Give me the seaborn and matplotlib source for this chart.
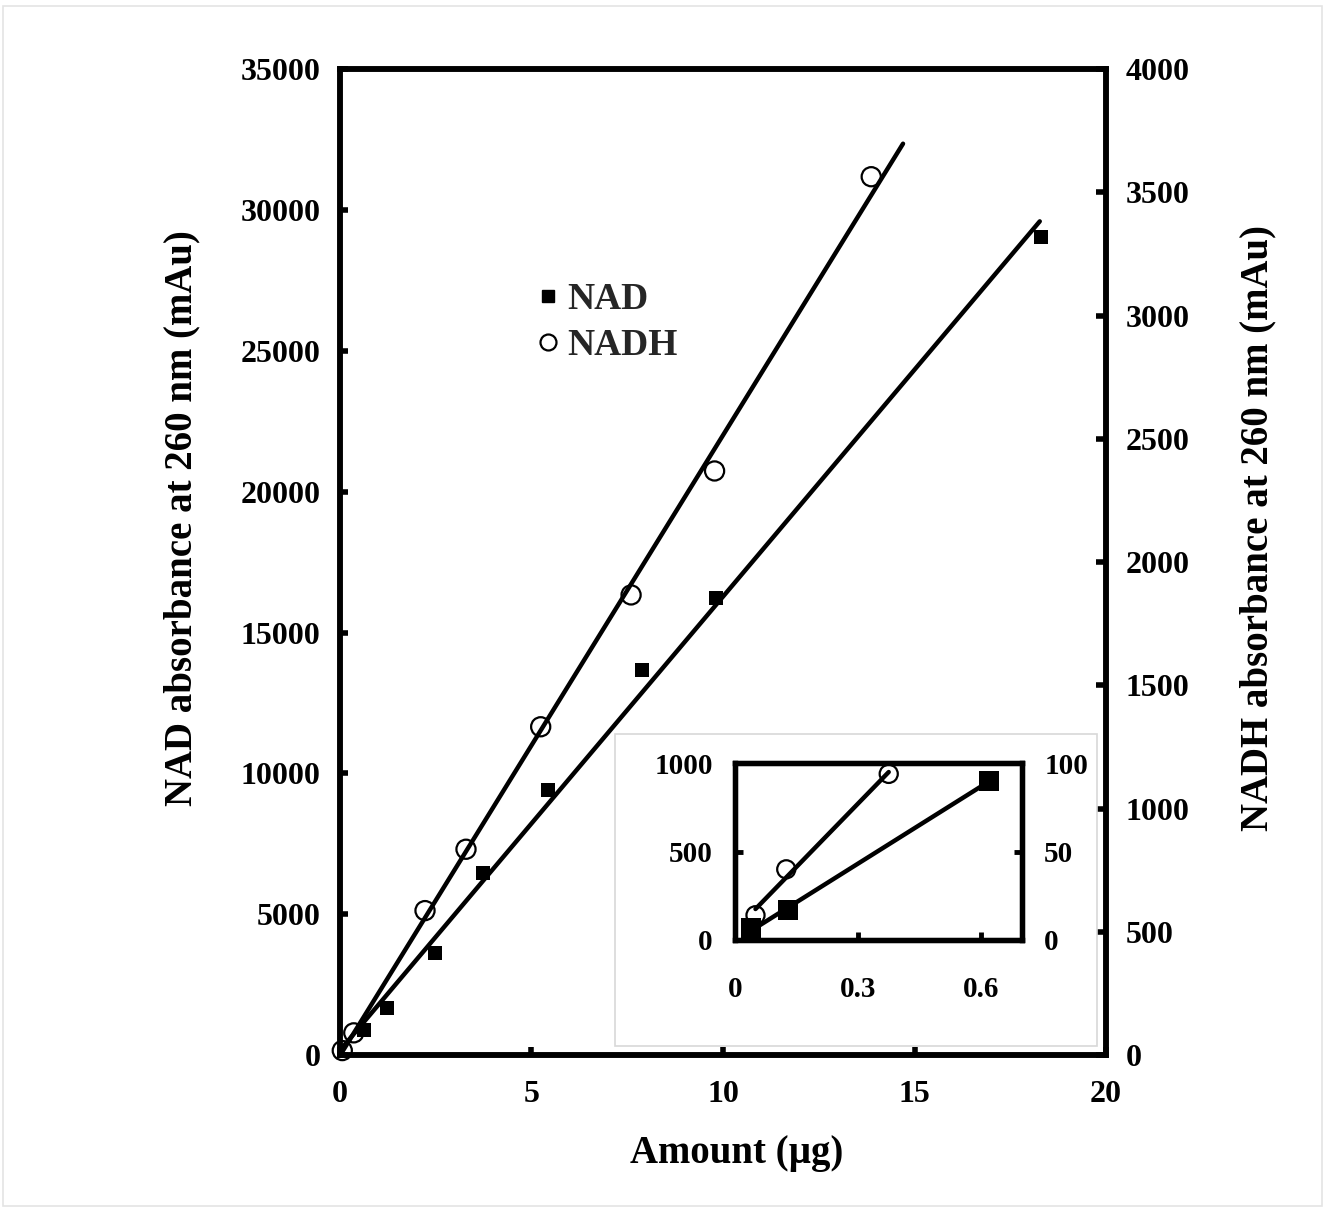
import numpy as np
import seaborn as sns
import matplotlib
matplotlib.use("Agg")
import matplotlib.pyplot as plt
from matplotlib.lines import Line2D
from matplotlib.patches import Rectangle

# Absorbance at 260 nm versus injected amount (main panel)
nad_amount = [0.62, 1.22, 2.48, 3.74, 5.42, 7.88, 9.81, 18.29]
nad_abs = [900, 1658, 3632, 6473, 9410, 13670, 16216, 29056]
nadh_amount = [0.06, 0.36, 2.22, 3.29, 5.24, 7.60, 9.78, 13.87]
nadh_abs = [18, 90, 586, 835, 1332, 1867, 2370, 3564]

# Low-amount range (inset)
nad_low_amount = [0.04, 0.13, 0.62]
nad_low_abs = [66, 170, 900]
nadh_low_amount = [0.05, 0.125, 0.375]
nadh_low_abs = [14, 40, 94]

# extent of the calibration lines (µg)
nad_fit_end = 18.27
nadh_fit_end = 14.7

x_ticks = [0, 5, 10, 15, 20]
nad_ticks = list(range(0, 35001, 5000))
nadh_ticks = list(range(0, 4001, 500))
inset_x_ticks = [0, 0.3, 0.6]
inset_x_labels = ["0", "0.3", "0.6"]
inset_nad_ticks = [0, 500, 1000]
inset_nadh_ticks = [0, 50, 100]

sns.set_theme(style="white")
plt.rcParams["font.family"] = ["Liberation Serif", "DejaVu Serif"]
plt.rcParams["font.weight"] = "bold"
plt.rcParams["axes.labelweight"] = "bold"

fig = plt.figure(figsize=(13.26, 12.11), dpi=100)
fig.patches.append(Rectangle((0.002, 0.004), 0.995, 0.991, transform=fig.transFigure,
                             fill=False, edgecolor="#e4e4e4", lw=1.2, zorder=0))

ax = fig.add_axes([0.2564, 0.1288, 0.5777, 0.8140])
ax2 = ax.twinx()


def style_axes(a, lw=4):
    for sp in a.spines.values():
        sp.set_linewidth(lw)
        sp.set_color("black")


# ---- main panel ----
nad_x = np.array(nad_amount)
nad_y = np.array(nad_abs)
nadh_x = np.array(nadh_amount)
nadh_y = np.array(nadh_abs)

nad_fit = np.polyfit(nad_x, nad_y, 1)
nadh_fit = np.polyfit(nadh_x, nadh_y, 1)
xs_nad = np.array([0.0, nad_fit_end])
xs_nadh = np.array([0.0, nadh_fit_end])

sns.lineplot(x=xs_nad, y=np.polyval(nad_fit, xs_nad), ax=ax, color="black", lw=3.2)
sns.scatterplot(x=nad_x, y=nad_y, ax=ax, marker="s", s=115, color="black",
                linewidth=0, clip_on=False, zorder=3)

sns.lineplot(x=xs_nadh, y=np.polyval(nadh_fit, xs_nadh), ax=ax2, color="black", lw=3.2)
sns.scatterplot(x=nadh_x, y=nadh_y, ax=ax2, marker="o", s=190, facecolor="none",
                edgecolor="black", linewidth=1.6, clip_on=False, zorder=3)

ax.set_xlim(0, 20)
ax.set_ylim(0, 35000)
ax2.set_ylim(0, 4000)
ax.set_xticks(x_ticks)
ax.set_yticks(nad_ticks)
ax2.set_yticks(nadh_ticks)
ax.set_xticklabels([str(t) for t in x_ticks])
ax.set_yticklabels([str(t) for t in nad_ticks])
ax2.set_yticklabels([str(t) for t in nadh_ticks])

ax.tick_params(axis="x", direction="in", length=6, width=4, labelsize=23, pad=18,
               colors="black", bottom=True, top=False)
ax.tick_params(axis="y", direction="in", length=6, width=4, labelsize=23, pad=14,
               colors="black", left=True, right=False)
ax2.tick_params(axis="y", direction="in", length=7, width=4, labelsize=23, pad=14,
                colors="black", right=True, left=False)

ax.set_xlabel("Amount (µg)", fontsize=28, labelpad=19, color="black")
ax.set_ylabel("NAD absorbance at 260 nm (mAu)", fontsize=28, labelpad=29, color="black")
ax2.set_ylabel("NADH absorbance at 260 nm (mAu)", fontsize=28, labelpad=36, color="black")
ax.xaxis.label.set_x(0.518)
ax.yaxis.label.set_y(0.545)
ax2.yaxis.label.set_y(0.535)
style_axes(ax)
style_axes(ax2)

handles = [
    Line2D([], [], marker="s", ls="none", color="black", markersize=9),
    Line2D([], [], marker="o", ls="none", mfc="none", mec="black", markersize=11.5, mew=1.6),
]
ax2.legend(handles, ["NAD", "NADH"], loc="center left", bbox_to_anchor=(0.257, 0.743),
           frameon=False, fontsize=27, handlelength=0.6, handletextpad=0.2,
           labelspacing=0.31, borderpad=0, borderaxespad=0)

# ---- inset: low-amount range ----
fig.patches.append(Rectangle((0.4638, 0.1362), 0.3635, 0.2577, transform=fig.transFigure,
                             facecolor="white", edgecolor="#d8d8d8", lw=1.2, zorder=1))

axin = fig.add_axes([0.5543, 0.2238, 0.2164, 0.1459])
axin2 = axin.twinx()
axin.set_zorder(3)
axin2.set_zorder(4)
axin.patch.set_visible(False)

low_nad_x = np.array(nad_low_amount)
low_nad_y = np.array(nad_low_abs)
low_nadh_x = np.array(nadh_low_amount)
low_nadh_y = np.array(nadh_low_abs)
in_nad_fit = np.polyfit(low_nad_x, low_nad_y, 1)
in_nadh_fit = np.polyfit(low_nadh_x, low_nadh_y, 1)
xr_nad = np.array([low_nad_x.min(), low_nad_x.max()])
xr_nadh = np.array([low_nadh_x.min(), low_nadh_x.max()])

sns.lineplot(x=xr_nad, y=np.polyval(in_nad_fit, xr_nad), ax=axin, color="black", lw=3.2)
sns.scatterplot(x=low_nad_x, y=low_nad_y, ax=axin, marker="s", s=200, color="black",
                linewidth=0, clip_on=False, zorder=3)
sns.lineplot(x=xr_nadh, y=np.polyval(in_nadh_fit, xr_nadh), ax=axin2, color="black", lw=3.2)
sns.scatterplot(x=low_nadh_x, y=low_nadh_y, ax=axin2, marker="o", s=170, facecolor="none",
                edgecolor="black", linewidth=1.6, clip_on=False, zorder=3)

axin.set_xlim(0, 0.7)
axin.set_ylim(0, 1000)
axin2.set_ylim(0, 100)
axin.set_xticks(inset_x_ticks)
axin.set_xticklabels(inset_x_labels)
axin.set_yticks(inset_nad_ticks)
axin.set_yticklabels([str(t) for t in inset_nad_ticks])
axin2.set_yticks(inset_nadh_ticks)
axin2.set_yticklabels([str(t) for t in inset_nadh_ticks])
axin.tick_params(axis="x", direction="in", length=6, width=3.5, labelsize=21, pad=26,
                 colors="black", bottom=True, top=False)
axin.tick_params(axis="y", direction="in", length=6, width=3.5, labelsize=21, pad=16,
                 colors="black", left=True, right=False)
axin2.tick_params(axis="y", direction="in", length=6, width=3.5, labelsize=21, pad=16,
                  colors="black", right=True, left=False)
axin.set_xlabel("")
axin.set_ylabel("")
axin2.set_ylabel("")
style_axes(axin, 3.8)
style_axes(axin2, 3.8)

fig.savefig("out.png", dpi=100, facecolor="white")
